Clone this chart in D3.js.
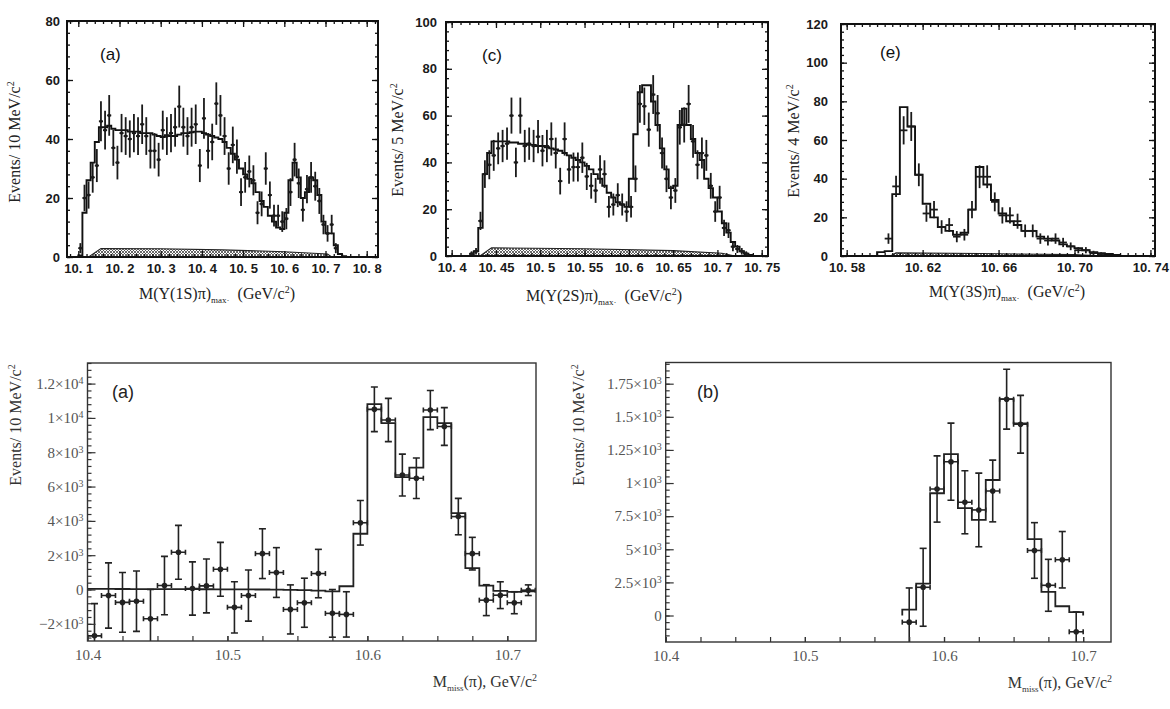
<!DOCTYPE html>
<html><head><meta charset="utf-8">
<script src="https://cdn.jsdelivr.net/npm/d3@7/dist/d3.min.js"></script>
<style>body{margin:0;background:#fff}svg{display:block}</style>
</head><body>
<svg id="chart" width="1170" height="709"></svg>
<script>
// ---------------- DATA ----------------
// Top (a): M(Y(1S)pi)max, 10 MeV bins
const aXTicks=[10.1,10.2,10.3,10.4,10.5,10.6,10.7,10.8];
const aXLabels=["10. 1","10. 2","10. 3","10. 4","10. 5","10. 6","10. 7","10. 8"];
const aYTicks=[0,20,40,60,80];
const aFitStart=10.10, aFitW=0.01;
const aFit=[0.5,15,26,32,39,44,44,44.5,43.5,43,43,43,42.5,42.5,42.5,42,42,42,41.5,41,40.7,41.3,41,41,41.5,42,42,42.3,42.5,42.5,42,41.5,41,40.5,40,39,37,35,33,30,28,26.5,25,22,19,17,14,12,10,9.5,15,26,32,27,20,22,27,26,21,12,8,8,4,1,0.3];
const aDataStart=10.105, aDataW=0.01;
const aVals=[3,20,21,27,31,46,43,48,37,32,42,41,40,42,41,45,41,36,36,33,43,41,42,44,51,44,41,44,45,31,47,36,39,52,48,41,30,38,34,22,27,29,26,15,18,30,21,14,14,12,13,22,33,25,16,23,27,24,19,11,8,11,3];
const aErrs=[1.7,4.5,4.6,5.2,5.6,6.8,6.6,6.9,6.1,5.7,6.5,6.4,6.3,6.5,6.4,6.7,6.4,6,6,5.7,6.6,6.4,6.5,6.6,7.1,6.6,6.4,6.6,6.7,5.6,6.9,6,6.2,7.2,6.9,6.4,5.5,6.2,5.8,4.7,5.2,5.4,5.1,3.9,4.2,5.5,4.6,3.7,3.7,3.5,3.6,4.7,5.7,5,4,4.8,5.2,4.9,4.4,3.3,2.8,3.3,1.7];
const aBgX=[10.125,10.155,10.30,10.45,10.60,10.705,10.715];
const aBgY=[0,2.9,2.8,2.4,1.8,1.0,0];

// Top (c): M(Y(2S)pi)max, 5 MeV bins
const cXTicks=[10.4,10.45,10.5,10.55,10.6,10.65,10.7,10.75];
const cXLabels=["10. 4","10. 45","10. 5","10. 55","10. 6","10. 65","10. 7","10. 75"];
const cYTicks=[0,20,40,60,80,100];
const cFitStart=10.425, cFitW=0.005;
const cFit=[2,12,35,44,49,49,49,49,48.5,48.5,48,48,47.5,47.5,47,47,46.5,46,45.5,45,44,43,42,41,40,38.5,37,35,33,30,27,25,23,22,21,33,52,70,73,73,66,56,46,37,29,30,56,63,56,50,44,41,33,29,25,19,14,10,6,4,2,1,0.4];
const cDataStart=10.4225, cDataW=0.005;
const cVals=[1,2,15,35,39,43,46,47,48,60,40,60,47,48,47,51,45,47,50,44,32,50,37,38,38,42,34,30,28,37,35,21,22,26,22,19,21,33,65,64,54,69,61,44,33,25,28,55,56,65,49,39,44,43,30,19,25,12,11,4,3,2,1];
const cErrs=[1,1.4,3.9,5.9,6.2,6.6,6.8,6.9,6.9,7.7,6.3,7.7,6.9,6.9,6.9,7.1,6.7,6.9,7.1,6.6,5.7,7.1,6.1,6.2,6.2,6.5,5.8,5.5,5.3,6.1,5.9,4.6,4.7,5.1,4.7,4.4,4.6,5.7,8.1,8,7.3,8.3,7.8,6.6,5.7,5,5.3,7.4,7.5,8.1,7,6.2,6.6,6.6,5.5,4.4,5,3.5,3.3,2,1.7,1.4,1];
const cBgX=[10.432,10.445,10.55,10.65,10.705,10.72];
const cBgY=[0,3.5,3.1,2.3,1.2,0];

// Top (e): M(Y(3S)pi)max, 4 MeV bins
const eXTicks=[10.58,10.62,10.66,10.70,10.74];
const eXLabels=["10. 58","10. 62","10. 66","10. 70","10. 74"];
const eYTicks=[0,20,40,60,80,100,120];
const eFitStart=10.596, eFitW=0.004;
const eFit=[2,2.5,32,77,67,42,27,20,15,13,11,12,24,46,37,29,22,18,16,13,13,10,9,8,6,5,4,3,2,1.5,1,0.5];
const eDataStart=10.602, eDataW=0.004;
const eVals=[9,36,65,67,42,22,24,15,16,10,11,24,41,41,28,21,21,18,13,13,9,8,9,7,5,3,3,1.5,1];
const eErrs=[2.7,5.5,7.3,7.5,5.9,4.3,4.5,3.5,3.6,2.9,3,4.5,5.9,5.9,4.9,4.2,4.2,3.9,3.3,3.3,2.7,2.6,2.7,2.4,2,1.6,1.6,1.2,1];
const eBgX=[10.603,10.606,10.65,10.70,10.716];
const eBgY=[0,1.6,1.3,0.7,0];

// Bottom (a): Mmiss(pi), 10 MeV bins
const bXTicks=[10.4,10.5,10.6,10.7];
const bXLabels=["10.4","10.5","10.6","10.7"];
const baYTicks=[12000,10000,8000,6000,4000,2000,0,-2000];
const baYBase=["1.2×10","1×10","8×10","6×10","4×10","2×10","0","−2×10"];
const baYSup=["4","4","3","3","3","3","","3"];
const baFitStart=10.40, baFitW=0.01;
const baFit=[40,35,30,28,25,22,20,18,15,12,10,5,0,-10,-20,-40,-70,-110,190,3250,10800,9700,6550,7100,10050,9700,4450,1250,230,-80,-140,-100];
const baDataStart=10.405, baDataW=0.01;
const baVals=[-2700,-350,-750,-680,-1700,230,2170,60,210,1180,-1040,-350,2090,990,-1160,-770,930,-1390,-1450,3890,10500,9880,6670,6480,10460,9500,4250,2090,-620,-330,-770,-40];
const baErrs=[1880,1900,1740,1760,1700,1700,1570,1550,1570,1570,1490,1490,1450,1450,1430,1430,1410,1390,1320,1300,1300,1260,1220,1180,1140,1100,1060,950,900,780,640,310];

// Bottom (b): Mmiss(pi), 10 MeV bins
const bbYTicks=[1750,1500,1250,1000,750,500,250,0];
const bbYBase=["1.75×10","1.5×10","1.25×10","1×10","7.5×10","5×10","2.5×10","0"];
const bbYSup=["3","3","3","3","3","3","3",""];
const bbFitStart=10.57, bbFitW=0.01;
const bbFit=[45,241,923,1219,810,722,1023,1633,1450,577,178,70,25];
const bbDataStart=10.575, bbDataW=0.01;
const bbVals=[-50,213,955,1161,855,797,940,1633,1444,491,228,421,-123];
const bbErrs=[258,294,250,291,238,278,233,226,218,210,196,213,150];

// ---------------- DRAWING ----------------
const svg=d3.select("#chart");
const defs=svg.append("defs");
const pat=defs.append("pattern").attr("id","hatch").attr("patternUnits","userSpaceOnUse").attr("width",3).attr("height",3);
pat.append("rect").attr("width",3).attr("height",3).attr("fill","#fff");
pat.append("path").attr("d","M0,0L3,3M3,0L0,3").attr("stroke","#444").attr("stroke-width",0.8);

const SANS="'Liberation Sans', Arial, sans-serif";
const SERIF="'Liberation Serif', 'Times New Roman', serif";

function stepPath(x,y,start,w,vals,closeL,closeR){
  const pts=[];
  if(closeL) pts.push([x(start),y(0)]);
  vals.forEach((v,i)=>{pts.push([x(start+i*w),y(v)]);pts.push([x(start+(i+1)*w),y(v)]);});
  if(closeR) pts.push([x(start+vals.length*w),y(0)]);
  return d3.line()(pts);
}
function addAxis(g,axis,tx,ty){
  const s=g.append("g").attr("transform",`translate(${tx},${ty})`).call(axis);
  s.select(".domain").remove();
  return s;
}

function topPanel(c){
  const x=d3.scaleLinear().domain(c.xDom).range([c.l,c.r]);
  const y=d3.scaleLinear().domain([0,c.yMax]).range([c.b,c.t]);
  const g=svg.append("g");
  defs.append("clipPath").attr("id","cl"+c.id).append("rect")
    .attr("x",c.l).attr("y",c.t).attr("width",c.r-c.l).attr("height",c.b-c.t);
  const pg=g.append("g").attr("clip-path",`url(#cl${c.id})`);
  pg.append("path").attr("d",d3.line()(c.bgX.map((v,i)=>[x(v),y(c.bgY[i])])))
    .attr("fill","url(#hatch)").attr("stroke","#222").attr("stroke-width",1.1);
  pg.append("path").attr("d",stepPath(x,y,c.fitStart,c.fitW,c.fit,true,true))
    .attr("fill","none").attr("stroke","#111").attr("stroke-width",1.9);
  const dg=pg.append("g").attr("stroke","#1a1a1a").attr("stroke-width",1.8);
  c.vals.forEach((v,i)=>{
    const xc=c.dStart+i*c.dW,e=c.errs[i];
    dg.append("line").attr("x1",x(xc)).attr("x2",x(xc)).attr("y1",y(v-e)).attr("y2",y(v+e));
    dg.append("line").attr("x1",x(xc-c.dW/2)).attr("x2",x(xc+c.dW/2)).attr("y1",y(v)).attr("y2",y(v));
    if(c.dot) pg.append("circle").attr("cx",x(xc)).attr("cy",y(v)).attr("r",1.6).attr("fill","#1a1a1a");
  });
  addAxis(g,d3.axisBottom(x).tickValues(c.xMinor).tickSize(-3).tickFormat(""),0,c.b);
  addAxis(g,d3.axisTop(x).tickValues(c.xMinor).tickSize(-3).tickFormat(""),0,c.t);
  addAxis(g,d3.axisLeft(y).tickValues(c.yMinor).tickSize(-3).tickFormat(""),c.l,0);
  addAxis(g,d3.axisRight(y).tickValues(c.yMinor).tickSize(-3).tickFormat(""),c.r,0);
  const xb=addAxis(g,d3.axisBottom(x).tickValues(c.xTicks).tickSize(-6).tickPadding(7).tickFormat((d,i)=>c.xLabels[i]),0,c.b);
  addAxis(g,d3.axisTop(x).tickValues(c.xTicks).tickSize(-6).tickFormat(""),0,c.t);
  const yl=addAxis(g,d3.axisLeft(y).tickValues(c.yTicks).tickSize(-6).tickPadding(c.yPad).tickFormat(d=>String(d)),c.l,0);
  addAxis(g,d3.axisRight(y).tickValues(c.yTicks).tickSize(-6).tickFormat(""),c.r,0);
  g.selectAll(".tick line").attr("stroke","#111").attr("stroke-width",1.3);
  [xb,yl].forEach(s=>s.selectAll("text").attr("font-family",SANS).attr("font-weight","bold")
    .attr("font-size",13).attr("fill","#1a1a1a"));
  g.append("rect").attr("x",c.l).attr("y",c.t).attr("width",c.r-c.l).attr("height",c.b-c.t)
    .attr("fill","none").attr("stroke","#111").attr("stroke-width",2);
  g.append("text").attr("x",c.letterX).attr("y",c.letterY).attr("font-family",SANS)
    .attr("font-size",17).attr("fill","#111").text(c.letter);
  const ty=g.append("text").attr("transform",`translate(${c.ylX},${c.ylY}) rotate(-90)`)
    .attr("text-anchor","middle").attr("font-family",SERIF).attr("font-size",16).attr("fill","#222");
  ty.append("tspan").text(c.yLabel);
  ty.append("tspan").attr("dy",-6).attr("font-size",10).text("2");
  const tx=g.append("text").attr("x",c.xlX).attr("y",c.xlY).attr("text-anchor","middle")
    .attr("font-family",SERIF).attr("font-size",16).attr("fill","#222");
  tx.append("tspan").text(c.xLabel);
  tx.append("tspan").attr("dy",4).attr("font-size",9).text("max·");
  tx.append("tspan").attr("dy",-4).text("\u00a0\u00a0(GeV/c");
  tx.append("tspan").attr("dy",-6).attr("font-size",10).text("2");
  tx.append("tspan").attr("dy",6).text(")");
}

function bottomPanel(c){
  const x=d3.scaleLinear().domain(c.xDom).range([c.l,c.r]);
  const y=d3.scaleLinear().domain(c.yDom).range([c.b,c.t]);
  const g=svg.append("g");
  defs.append("clipPath").attr("id","cl"+c.id).append("rect")
    .attr("x",c.l).attr("y",c.t).attr("width",c.r-c.l).attr("height",c.b-c.t);
  const pg=g.append("g").attr("clip-path",`url(#cl${c.id})`);
  pg.append("path").attr("d",stepPath(x,y,c.fitStart,c.fitW,c.fit,c.close,c.close))
    .attr("fill","none").attr("stroke","#222").attr("stroke-width",1.8);
  const dg=pg.append("g").attr("stroke","#222").attr("stroke-width",1.6);
  c.vals.forEach((v,i)=>{
    const xc=c.dStart+i*c.dW,e=c.errs[i];
    const X=x(xc),Y=y(v),x0=x(xc-c.dW/2),x1=x(xc+c.dW/2),yt=y(v+e),yb=y(v-e);
    dg.append("line").attr("x1",X).attr("x2",X).attr("y1",yb).attr("y2",yt);
    dg.append("line").attr("x1",X-3.5).attr("x2",X+3.5).attr("y1",yt).attr("y2",yt);
    dg.append("line").attr("x1",X-3.5).attr("x2",X+3.5).attr("y1",yb).attr("y2",yb);
    dg.append("line").attr("x1",x0).attr("x2",x1).attr("y1",Y).attr("y2",Y);
    dg.append("line").attr("x1",x0).attr("x2",x0).attr("y1",Y-2.5).attr("y2",Y+2.5);
    dg.append("line").attr("x1",x1).attr("x2",x1).attr("y1",Y-2.5).attr("y2",Y+2.5);
    pg.append("circle").attr("cx",X).attr("cy",Y).attr("r",2.8).attr("fill","#222");
  });
  addAxis(g,d3.axisBottom(x).tickValues(d3.range(10.4,10.721,0.025)).tickSize(-5).tickFormat(""),0,c.b);
  const xb=addAxis(g,d3.axisBottom(x).tickValues(bXTicks).tickSize(-5).tickPadding(8).tickFormat((d,i)=>bXLabels[i]),0,c.b);
  addAxis(g,d3.axisLeft(y).tickValues(c.yMinor).tickSize(-4).tickFormat(""),c.l,0);
  const yl=addAxis(g,d3.axisLeft(y).tickValues(c.yTicks).tickSize(-8).tickPadding(4).tickFormat(()=>""),c.l,0);
  g.selectAll(".tick line").attr("stroke","#333").attr("stroke-width",1.2);
  xb.selectAll("text").attr("font-family",SERIF).attr("font-size",15).attr("fill","#555");
  yl.selectAll(".tick text").each(function(d,i){
    const t=d3.select(this).attr("font-family",SERIF).attr("font-size",15).attr("fill","#555");
    t.append("tspan").text(c.yBase[i]);
    if(c.ySup[i]) t.append("tspan").attr("dy","-0.5em").attr("font-size",10).text(c.ySup[i]);
  });
  g.append("rect").attr("x",c.l).attr("y",c.t).attr("width",c.r-c.l).attr("height",c.b-c.t)
    .attr("fill","none").attr("stroke","#333").attr("stroke-width",1.4);
  g.append("text").attr("x",c.letterX).attr("y",c.letterY).attr("font-family",SANS)
    .attr("font-size",18).attr("fill","#222").text(c.letter);
  const ty=g.append("text").attr("transform",`translate(${c.ylX},${c.ylY}) rotate(-90)`)
    .attr("text-anchor","middle").attr("font-family",SERIF).attr("font-size",16).attr("fill","#333");
  ty.append("tspan").text("Events/ 10 MeV/c");
  ty.append("tspan").attr("dy",-6).attr("font-size",10).text("2");
  const tx=g.append("text").attr("x",c.r+1).attr("y",c.b+46).attr("text-anchor","end")
    .attr("font-family",SERIF).attr("font-size",16).attr("fill","#333");
  tx.append("tspan").text("M");
  tx.append("tspan").attr("dy",4).attr("font-size",9).text("miss");
  tx.append("tspan").attr("dy",-4).text("(π), GeV/c");
  tx.append("tspan").attr("dy",-6).attr("font-size",10).text("2");
}

topPanel({id:"ta",l:67,r:378,t:21,b:257,xDom:[10.0726,10.8274],yMax:80,yPad:7,
  xTicks:aXTicks,xLabels:aXLabels,yTicks:aYTicks,xMinor:d3.range(10.08,10.83,0.02),yMinor:d3.range(0,80.1,4),
  fitStart:aFitStart,fitW:aFitW,fit:aFit,dStart:aDataStart,dW:aDataW,vals:aVals,errs:aErrs,dot:true,
  bgX:aBgX,bgY:aBgY,letter:"(a)",letterX:100,letterY:60,
  yLabel:"Events/ 10 MeV/c",ylX:20,ylY:142,xLabel:"M(Υ(1S)π)",xlX:217,xlY:299});
topPanel({id:"tc",l:446,r:768,t:22,b:256,xDom:[10.3936,10.7571],yMax:100,yPad:9,
  xTicks:cXTicks,xLabels:cXLabels,yTicks:cYTicks,xMinor:d3.range(10.40,10.757,0.01),yMinor:d3.range(0,100.1,4),
  fitStart:cFitStart,fitW:cFitW,fit:cFit,dStart:cDataStart,dW:cDataW,vals:cVals,errs:cErrs,dot:true,
  bgX:cBgX,bgY:cBgY,letter:"(c)",letterX:482,letterY:61,
  yLabel:"Events/ 5 MeV/c",ylX:403,ylY:140,xLabel:"M(Υ(2S)π)",xlX:604,xlY:301});
topPanel({id:"te",l:841,r:1155,t:24,b:256,xDom:[10.577,10.7424],yMax:120,yPad:13,
  xTicks:eXTicks,xLabels:eXLabels,yTicks:eYTicks,xMinor:d3.range(10.58,10.7425,0.004),yMinor:d3.range(0,120.1,4),
  fitStart:eFitStart,fitW:eFitW,fit:eFit,dStart:eDataStart,dW:eDataW,vals:eVals,errs:eErrs,dot:false,
  bgX:eBgX,bgY:eBgY,letter:"(e)",letterX:880,letterY:58,
  yLabel:"Events/ 4 MeV/c",ylX:799,ylY:141,xLabel:"M(Υ(3S)π)",xlX:1007,xlY:297});

bottomPanel({id:"ba",l:87.5,r:536,t:363,b:641,xDom:[10.4,10.7205],yDom:[-3000,13200],
  yTicks:baYTicks,yBase:baYBase,ySup:baYSup,yMinor:d3.range(-2800,13201,400),
  fitStart:baFitStart,fitW:baFitW,fit:baFit,close:false,dStart:baDataStart,dW:baDataW,vals:baVals,errs:baErrs,
  letter:"(a)",letterX:112,letterY:398,ylX:21,ylY:425});
bottomPanel({id:"bb",l:665.7,r:1111,t:362.5,b:642,xDom:[10.4,10.72],yDom:[-200,1910],
  yTicks:bbYTicks,yBase:bbYBase,ySup:bbYSup,yMinor:d3.range(-150,1901,50),
  fitStart:bbFitStart,fitW:bbFitW,fit:bbFit,close:true,dStart:bbDataStart,dW:bbDataW,vals:bbVals,errs:bbErrs,
  letter:"(b)",letterX:697,letterY:398,ylX:584,ylY:425});
</script>
</body></html>
